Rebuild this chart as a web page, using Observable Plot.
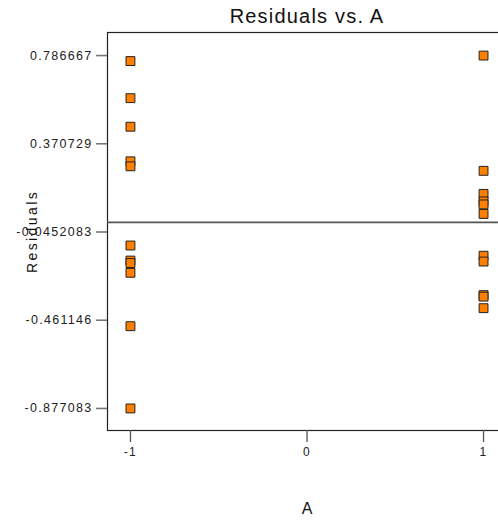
<!DOCTYPE html>
<html>
<head>
<meta charset="utf-8">
<script src="https://cdn.jsdelivr.net/npm/d3@7"></script>
<script src="https://cdn.jsdelivr.net/npm/@observablehq/plot@0.6"></script>
<style>
  html, body { margin: 0; padding: 0; background: white; overflow: hidden; }
  #chart svg { overflow: hidden; }
  g[aria-label="y-axis tick label"] text,
  g[aria-label="x-axis tick label"] text { letter-spacing: 1.3px; }
  .ylab text { letter-spacing: 2.4px; }
  .title text { letter-spacing: 1.2px; }
</style>
</head>
<body>
<div id="chart"></div>
<script>
const titleText = "Residuals vs. A";
const xLabel = "A";
const yLabel = "Residuals";

const aValues = [-1, -1, -1, -1, -1, -1, -1, -1, -1, -1, -1,
                  1,  1,  1,  1,  1,  1,  1,  1,  1,  1,  1];
const residuals = [0.7607, 0.5858, 0.4511, 0.2881, 0.2645, -0.1089, -0.1798, -0.1916, -0.2375, -0.4893, -0.877083,
                   0.786667, 0.2432, 0.1345, 0.0991, 0.0849, 0.0400, -0.1570, -0.1845, -0.3428, -0.3499, -0.4043];

const xTicks = [-1, 0, 1];
const yTicks = [0.786667, 0.370729, -0.0452083, -0.461146, -0.877083];
const yTickLabels = ["0.786667", "0.370729", "-0.0452083", "-0.461146", "-0.877083"];

const data = aValues.map((a, i) => ({a, r: residuals[i]}));
const font = "'Liberation Sans', Arial, sans-serif";

const chart = Plot.plot({
  width: 498,
  height: 523,
  marginLeft: 107,
  marginTop: 32,
  marginBottom: 93,
  marginRight: -8,
  style: {fontFamily: font, background: "white", color: "#222"},
  x: {domain: [-1.13, 1.13]},
  y: {domain: [-0.981, 0.8954]},
  marks: [
    Plot.frame({stroke: "#222", strokeWidth: 1.2}),
    Plot.ruleY([0], {stroke: "#555", strokeWidth: 1.6}),
    Plot.axisY({ticks: yTicks, tickFormat: (d, i) => yTickLabels[i], tickSize: 11, tickPadding: 4,
                stroke: "#777", strokeWidth: 1.6, fontSize: 12.5, fill: "#222", label: null}),
    Plot.axisX({ticks: xTicks, tickFormat: d => String(d), tickSize: 12, tickPadding: 5,
                stroke: "#555", strokeWidth: 1.3, fontSize: 12, fill: "#222", label: null}),
    Plot.dot(data, {x: "a", y: "r", symbol: "square", r: 5, fill: "#ff8000", stroke: "#222", strokeWidth: 1}),
    Plot.text([titleText], {frameAnchor: "top", dy: -24, fontSize: 20, fill: "#111", className: "title"}),
    Plot.text([yLabel], {frameAnchor: "left", textAnchor: "middle", dx: -75, rotate: -90, fontSize: 14, fill: "#111", className: "ylab"}),
    Plot.text([xLabel], {frameAnchor: "bottom", dy: 83, fontSize: 16, fill: "#111"})
  ]
});
document.getElementById("chart").appendChild(chart);
</script>
</body>
</html>
